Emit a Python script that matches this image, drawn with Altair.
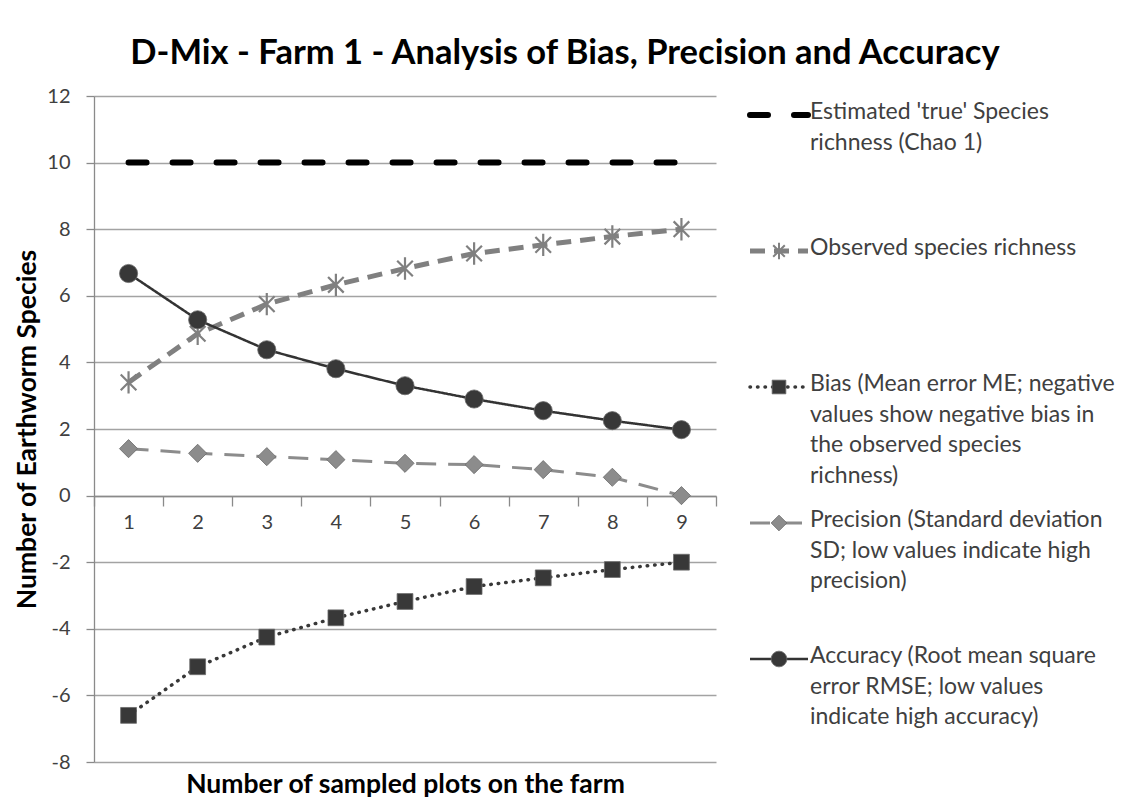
import altair as alt
import pandas as pd

# ---------------- data ----------------
plots = [1, 2, 3, 4, 5, 6, 7, 8, 9]
chao1 = [10, 10, 10, 10, 10, 10, 10, 10, 10]
observed = [3.4, 4.86, 5.75, 6.33, 6.82, 7.27, 7.53, 7.78, 8.0]
bias = [-6.6, -5.14, -4.25, -3.67, -3.18, -2.73, -2.47, -2.22, -2.0]
precision = [1.41, 1.27, 1.17, 1.08, 0.97, 0.93, 0.78, 0.55, 0.0]
accuracy = [6.67, 5.28, 4.38, 3.81, 3.3, 2.9, 2.55, 2.25, 1.98]

series_keys = ["Chao1", "Observed", "Bias", "Precision", "Accuracy"]
legend_labels = [
    "Estimated 'true' Species\nrichness (Chao 1)",
    "Observed species richness",
    "Bias (Mean error ME; negative\nvalues show negative bias in\nthe observed species\nrichness)",
    "Precision (Standard deviation\nSD; low values indicate high\nprecision)",
    "Accuracy (Root mean square\nerror RMSE; low values\nindicate high accuracy)",
]
y_ticks = [-8, -6, -4, -2, 0, 2, 4, 6, 8, 10, 12]

series_values = {
    "Chao1": chao1,
    "Observed": observed,
    "Bias": bias,
    "Precision": precision,
    "Accuracy": accuracy,
}

rows = []
for key in series_keys:
    for p, v in zip(plots, series_values[key]):
        rows.append({"plots": str(p), "series": key, "value": v})
df = pd.DataFrame(rows)
leg_df = pd.DataFrame({"series": series_keys, "label": legend_labels})

# ---------------- styles ----------------
ASTERISK = "M-0.7,-0.7L0.7,0.7M-0.7,0.7L0.7,-0.7M0,-1L0,1"
styles = {
    "Chao1": dict(color="#000000", width=6, dash=[18, 26], cap="round", shape=None),
    "Observed": dict(color="#808080", width=5, dash=[15, 9], cap="butt",
                     shape=ASTERISK, size=500, filled=False, mcolor="#808080"),
    "Bias": dict(color="#383838", width=3.5, dash=[0.5, 7], cap="round",
                 shape="square", size=250, filled=True, mcolor="#383838"),
    "Precision": dict(color="#8c8c8c", width=3, dash=[20, 12], cap="butt",
                      shape="diamond", size=330, filled=True, mcolor="#8c8c8c"),
    "Accuracy": dict(color="#333333", width=2.5, dash=[1, 0], cap="butt",
                     shape="circle", size=330, filled=True, mcolor="#383838"),
}

FONT = "Lato"
TXT = "#404040"

x_enc = alt.X(
    "plots:O",
    sort=[str(p) for p in plots],
    scale=alt.Scale(type="band", paddingInner=0, paddingOuter=0),
    axis=alt.Axis(
        title="Number of sampled plots on the farm",
        titleFont=FONT, titleFontSize=26.5, titleFontWeight="bold", titleColor="#000000",
        titleY=288, titleBaseline="middle",
        orient="bottom", offset=-266,
        tickBand="extent", tickSize=10, tickColor="#8a8a8a", tickWidth=1.3,
        domainColor="#8a8a8a", domainWidth=1.3,
        labelFont=FONT, labelFontSize=20, labelColor=TXT, labelPadding=6,
        labelAngle=0, grid=False,
    ),
)
y_enc = alt.Y(
    "value:Q",
    scale=alt.Scale(domain=[-8, 12], nice=False, zero=False),
    axis=alt.Axis(
        title="Number of Earthworm Species",
        titleFont=FONT, titleFontSize=26.5, titleFontWeight="bold", titleColor="#000000",
        titlePadding=5,
        values=y_ticks, labelExpr="datum.value + ''",
        tickSize=8, tickColor="#8a8a8a", tickWidth=1.3,
        domainColor="#8a8a8a", domainWidth=1.3,
        labelFont=FONT, labelFontSize=20, labelColor=TXT, labelPadding=16,
        grid=True, gridColor="#a3a3a3", gridWidth=1.3,
    ),
)

layers = []
draw_order = ["Chao1", "Precision", "Bias", "Observed", "Accuracy"]
for key in draw_order:
    s = styles[key]
    base = alt.Chart(df).transform_filter(alt.datum.series == key)
    layers.append(
        base.mark_line(color=s["color"], strokeWidth=s["width"], strokeDash=s["dash"],
                       strokeCap=s["cap"]).encode(x=x_enc, y=y_enc)
    )
    if s["shape"]:
        if s["filled"]:
            mk = base.mark_point(shape=s["shape"], size=s["size"], filled=True,
                                 fill=s["mcolor"], stroke="#6a6a6a", strokeWidth=0.8,
                                 opacity=1)
        else:
            mk = base.mark_point(shape=s["shape"], size=s["size"], filled=False,
                                 stroke=s["mcolor"], strokeWidth=2.2, opacity=1)
        layers.append(mk.encode(x=x_enc, y=y_enc))

main = alt.layer(*layers).properties(width=622, height=666)

# ---------------- legend panel ----------------
leg_y = alt.Y("series:N", sort=series_keys,
              scale=alt.Scale(type="point", range=[19, 563], padding=0), axis=None)
leg_layers = []
for key in series_keys:
    s = styles[key]
    base = alt.Chart(leg_df).transform_filter(alt.datum.series == key)
    leg_layers.append(
        base.mark_rule(color=s["color"], strokeWidth=s["width"], strokeDash=s["dash"],
                       strokeCap=s["cap"]).encode(x=alt.value(2), x2=alt.value(60), y=leg_y)
    )
    if s["shape"]:
        if s["filled"]:
            mk = base.mark_point(shape=s["shape"], size=s["size"] * 0.75, filled=True,
                                 fill=s["mcolor"], stroke="#6a6a6a", strokeWidth=0.8,
                                 opacity=1)
        else:
            mk = base.mark_point(shape=s["shape"], size=s["size"] * 0.55, filled=False,
                                 stroke=s["mcolor"], strokeWidth=2, opacity=1)
        leg_layers.append(mk.encode(x=alt.value(31), y=leg_y))
leg_layers.append(
    alt.Chart(leg_df).mark_text(
        align="left", baseline="top", dy=-14, font=FONT, fontSize=23,
        lineHeight=30.5, lineBreak="\n", color=TXT,
    ).encode(x=alt.value(62), y=leg_y, text="label:N")
)
legend = alt.layer(*leg_layers).properties(width=365, height=666)

chart = (
    alt.hconcat(main, legend, spacing=30)
    .properties(
        title=alt.TitleParams(
            "D-Mix - Farm 1 - Analysis of Bias, Precision and Accuracy",
            font=FONT, fontSize=34.5, fontWeight="bold", color="#000000",
            anchor="middle", offset=15,
        ),
        padding={"left": 6, "top": 27, "right": 5, "bottom": 0},
        background="white",
    )
    .configure_view(stroke=None)
)

chart.save("out.html", embed_options={"renderer": "svg", "actions": False})
